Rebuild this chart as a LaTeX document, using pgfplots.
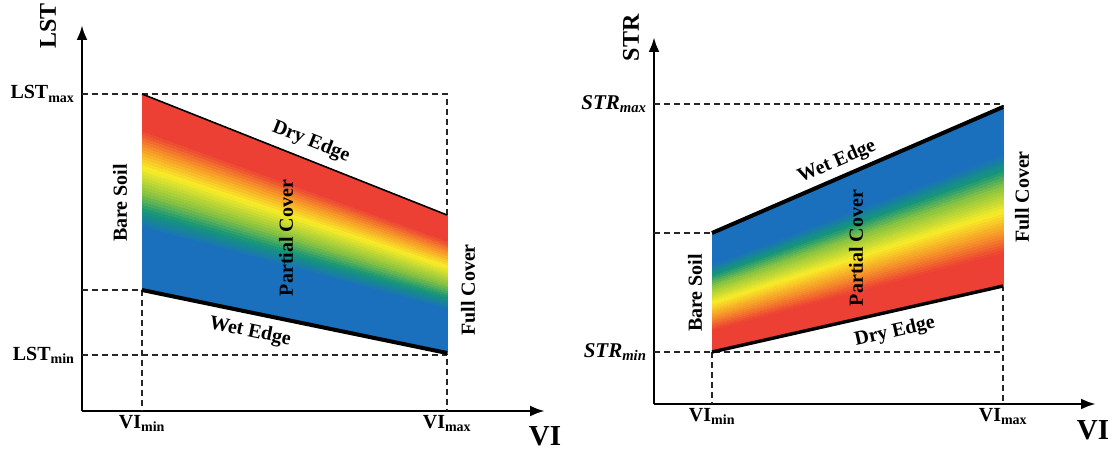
\documentclass[border=0pt]{standalone}
\usepackage{fontspec}
\setmainfont{Liberation Serif}
\usepackage{pgfplots}
\pgfplotsset{compat=1.18}
\usepgfplotslibrary{patchplots}
\usetikzlibrary{arrows.meta}

\newcommand\fs[1]{\fontsize{#1}{#1}\selectfont\bfseries}

\pgfplotsset{
  % blue (wet) at 0, red (dry) at 1
  colormap={vtcileft}{rgb255(0pt)=(26,112,188) rgb255(31pt)=(26,112,188)
    rgb255(40pt)=(22,150,120) rgb255(49pt)=(135,195,65)
    rgb255(62pt)=(248,236,40) rgb255(72pt)=(246,150,40)
    rgb255(81pt)=(236,64,52) rgb255(100pt)=(236,64,52)},
  colormap={vtciright}{rgb255(0pt)=(26,112,188) rgb255(27pt)=(26,112,188)
    rgb255(36pt)=(22,150,120) rgb255(45pt)=(135,195,65)
    rgb255(59pt)=(248,236,40) rgb255(71pt)=(246,150,40)
    rgb255(82pt)=(236,64,52) rgb255(100pt)=(236,64,52)},
  trap/.style={
    x=1pt, y=1pt, xmin=0, ymin=0,
    axis lines=left,
    axis line style={line width=2.8pt, -{Latex[length=15pt,width=11pt]}},
    major tick length=0pt,
    clip=false,
    ticklabel style={font=\fs{20}},
    xticklabel style={yshift=-1pt},
    yticklabel style={xshift=-4pt},
    point meta min=0, point meta max=1,
  },
  guide/.style={black!85, line width=1.4pt, dash pattern=on 6pt off 4pt},
  zone/.style={patch, patch type=bilinear, shader=interp, point meta=explicit},
}

\begin{document}
\begin{tikzpicture}
\useasboundingbox (0,0) rectangle (1118pt,-449pt);

% left panel: LST vs VI
\begin{axis}[trap, at={(82pt,-411pt)}, anchor=origin,
  colormap name=vtcileft,
  xmax=463, ymax=386,
  xtick={60,365}, xticklabels={VI\textsubscript{min}, VI\textsubscript{max}},
  ytick={56,317}, yticklabels={LST\textsubscript{min}, LST\textsubscript{max}}]
\addplot[guide] coordinates {(0,317) (365,317) (365,0)};
\addplot[guide] coordinates {(0,56) (365,56)};
\addplot[guide] coordinates {(0,121) (60,121) (60,0)};
\addplot[zone] table[meta=c] {
x y c
60 121 0
365 58 0
365 196 1
60 317 1
};
\addplot[black, line width=1.6pt] coordinates {(60,317) (365,196)};
\addplot[black, line width=4pt] coordinates {(60,121) (365,58)};
\node[font=\fs{20}, rotate=-21.6] at (axis cs:229,269) {Dry Edge};
\node[font=\fs{20}, rotate=-11.7] at (axis cs:168,79) {Wet Edge};
\node[font=\fs{20}, rotate=90] at (axis cs:38,208) {Bare Soil};
\node[font=\fs{20}, rotate=90] at (axis cs:204,173) {Partial Cover};
\node[font=\fs{20}, rotate=90] at (axis cs:386,121) {Full Cover};
\node[font=\fs{24}, rotate=90] at (axis cs:-34,385) {LST};
\node[font=\fs{29}] at (axis cs:463,-25) {VI};
\end{axis}

% right panel: STR vs VI
\begin{axis}[trap, at={(654pt,-404pt)}, anchor=origin,
  colormap name=vtciright,
  xmax=442, ymax=367,
  xtick={58,349}, xticklabels={VI\textsubscript{min}, VI\textsubscript{max}},
  ytick={52,300},
  yticklabels={\textit{STR}\textsubscript{\textit{min}}, \textit{STR}\textsubscript{\textit{max}}},
  yticklabel style={font=\fs{21}}]
\addplot[guide] coordinates {(0,300) (349,300) (349,0)};
\addplot[guide] coordinates {(0,52) (349,52)};
\addplot[guide] coordinates {(0,171) (58,171)};
\addplot[guide] coordinates {(58,52) (58,0)};
\addplot[zone] table[meta=c] {
x y c
58 52 1
349 118 1
349 297 0
58 171 0
};
\addplot[black, line width=4pt] coordinates {(58,171) (349,297)};
\addplot[black, line width=3.4pt] coordinates {(58,52) (349,118)};
\node[font=\fs{20}, rotate=23.4] at (axis cs:183,242) {Wet Edge};
\node[font=\fs{20}, rotate=12.8] at (axis cs:241,72) {Dry Edge};
\node[font=\fs{20}, rotate=90] at (axis cs:41,111) {Bare Soil};
\node[font=\fs{20}, rotate=90] at (axis cs:202,156) {Partial Cover};
\node[font=\fs{20}, rotate=90] at (axis cs:368,207) {Full Cover};
\node[font=\fs{24}, rotate=90] at (axis cs:-23,366) {STR};
\node[font=\fs{29}] at (axis cs:439,-26) {VI};
\end{axis}
\end{tikzpicture}
\end{document}
